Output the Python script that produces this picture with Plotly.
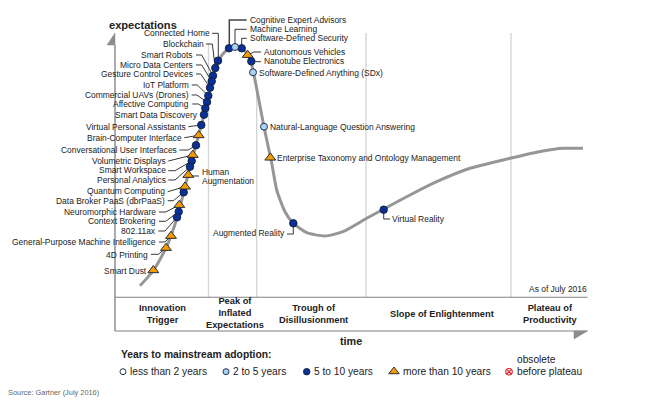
import plotly.graph_objects as go

W, H = 649, 408
X0, Y0 = 115, 297  # pixel position of the axis origin

def px(x): return x / W
def py(y): return 1 - y / H

# curve: time, expectations
curve_time = [25,38,51,62,75,89,100,107,114,120,127,133,137,141,149,156.7,161.7,170,178.3,191.7,210,228,251.7,268.3,295,321.7,355,395,428,448,468]
curve_exp = [11.3,26,49,79,130,182,229,242,248.5,250.5,248.5,242,231,212,170,134,107,85.3,73.7,64.3,61,65.3,78.7,87.7,102,115.3,128.7,138.7,146,148.7,148.7]

# 5 to 10 years
dark_names = ["Connected Home","Blockchain","Smart Robots","Micro Data Centers","Gesture Control Devices","IoT Platform","Commercial UAVs (Drones)","Affective Computing","Smart Data Discovery","Virtual Personal Assistants","Conversational User Interfaces","Smart Workspace","Personal Analytics","Data Broker PaaS (dbrPaaS)","Context Brokering","802.11ax","Cognitive Expert Advisors","Software-Defined Security","Nanotube Electronics","Augmented Reality","Virtual Reality"]
dark_time = [103,100.3,98,96.7,95,93.3,92,90.3,89,86.3,81,76.7,75,68.7,63.7,62,114,126.7,136.3,178.3,268.7]
dark_exp = [236.3,229,221.3,215.7,209.3,201.3,195,188.7,182.3,172,151.7,136,130.3,104.7,85.3,79.7,248.7,248.7,235.7,73.7,87.3]

# 2 to 5 years
light_names = ["Machine Learning","Software-Defined Anything (SDx)","Natural-Language Question Answering"]
light_time = [120,138,149]
light_exp = [250,224.7,170.3]

# more than 10 years
tri_names = ["Brain-Computer Interface","Volumetric Displays","Human Augmentation","Quantum Computing","Neuromorphic Hardware","General-Purpose Machine Intelligence","4D Printing","Smart Dust","Autonomous Vehicles","Enterprise Taxonomy and Ontology Management"]
tri_time = [83.7,77.7,73.3,70,64.3,56,51,38.3,132.7,155.3]
tri_exp = [161.7,142,122,110.3,92,61,49,26.7,242,139.3]

phase_labels = ["Innovation<br>Trigger","Peak of<br>Inflated<br>Expectations","Trough of<br>Disillusionment","Slope of Enlightenment","Plateau of<br>Productivity"]
legend_labels = ["less than 2 years","2 to 5 years","5 to 10 years","more than 10 years","before plateau"]

DARK = "#0A2F96"; LIGHT = "#A9D3F5"; ORANGE = "#F59A00"; EDGE = "#10203A"
GREY = "#969696"; TXT = "#222222"; FONT = "Liberation Sans"

fig = go.Figure()
fig.add_trace(go.Scatter(x=curve_time, y=curve_exp, mode="lines", hoverinfo="skip",
                         line=dict(color=GREY, width=3, shape="spline", smoothing=0.6)))
for names, t, e, col, sym, size in [
    (dark_names, dark_time, dark_exp, DARK, "circle", 7.5),
    (light_names, light_time, light_exp, LIGHT, "circle", 7),
    (tri_names, tri_time, tri_exp, ORANGE, "triangle-up", 9.5),
]:
    fig.add_trace(go.Scatter(x=t, y=e, text=names, mode="markers",
                             marker=dict(color=col, symbol=sym, size=size, line=dict(color=EDGE, width=0.9))))

# legend swatches
def swatch(xp, yp, col, sym, size, edge=EDGE, w=0.9):
    fig.add_trace(go.Scatter(x=[xp - X0], y=[Y0 - yp], mode="markers", hoverinfo="skip",
                             marker=dict(color=col, symbol=sym, size=size, line=dict(color=edge, width=w))))
swatch(123, 371.7, "white", "circle", 6)
swatch(226, 371.7, LIGHT, "circle", 6)
swatch(306.7, 371.7, DARK, "circle", 6.5)
swatch(394, 371.5, ORANGE, "triangle-up", 9)
swatch(509, 371.7, "white", "circle-x", 6.5, "#D8232A", 1.1)

shapes = []
def poly(pts, color="#222222", width=0.9, layer="below"):
    d = "M " + " L ".join(f"{px(x):.5f},{py(y):.5f}" for x, y in pts)
    shapes.append(dict(type="path", path=d, xref="paper", yref="paper", layer=layer,
                       line=dict(color=color, width=width)))

# phase dividers
for x, top in ((208.5, 43), (256.7, 85), (366, 33), (511, 33)):
    poly([(x, top), (x, 297)], "#D6D6D6", 1.4)
# axes and arrows
poly([(115, 45), (115, 331)], GREY, 1.6)
poly([(115, 297.3), (587.5, 297.3)], "#808080", 1.1)
poly([(115, 331), (587.5, 331)], "#808080", 1.1)
for tri in ([(115, 33), (107, 45), (115, 45), (115, 33)], [(587.5, 331), (574, 331), (574, 339), (587.5, 331)]):
    d = "M " + " L ".join(f"{px(x):.5f},{py(y):.5f}" for x, y in tri) + " Z"
    shapes.append(dict(type="path", path=d, xref="paper", yref="paper", layer="below",
                       fillcolor="#8C8C8C", line=dict(color="#8C8C8C", width=0.5)))

# leader lines
leaders = [
    [(212,33.3),(218.3,33.3),(218.3,60)], [(206,44),(212.3,44),(215.3,68)],
    [(196,55),(201.7,55),(213,75.7)], [(196,65),(201.7,65),(211.7,81.3)],
    [(196,74),(200.7,74),(210,87.7)], [(191.7,85),(197.3,85),(208.3,95.7)],
    [(191.7,95),(196.7,95),(207,102)], [(192.3,104),(198.3,104),(205.3,108.3)],
    [(200,115),(204,114.7)], [(188.3,126.7),(201.3,125)], [(184.3,137.7),(198.7,135.3)],
    [(179.3,150),(188.3,150),(196,145.3)], [(168.3,161),(192.7,155)],
    [(168.3,170.7),(175,170.7),(191.7,161)], [(168.3,180),(175,180),(190,166.7)],
    [(167.7,191.7),(185,186.7)], [(167.7,200.7),(173.3,200.7),(183.7,192.3)],
    [(159,212),(165.7,212),(179.3,205)], [(159,221.3),(165.7,221.3),(178.7,211.7)],
    [(158.3,231),(165,231),(177,217.3)], [(159,242),(165,242),(171,236)],
    [(151,254.3),(158.3,254.3),(166,248)], [(188,176),(199,176)],
    [(287,234),(293.3,234),(293.3,223)], [(383.7,209.7),(383.7,219),(390,219)],
    [(235,47),(235,29.3),(246.7,29.3)], [(241.7,48),(241.7,38.3),(246.7,38.3)],
    [(247.7,55),(254,52),(261,52)], [(251,61.7),(261,61.7)],
]
for l in leaders:
    poly(l)
poly([(229.3,48),(229.3,20),(246.7,20)], "#444444", 1.5)

ann = []
def text(x, y, s, anchor="left", size=8.45, bold=False, color=TXT, align=None):
    ann.append(dict(x=px(x), y=py(y), xref="paper", yref="paper", text=f"<b>{s}</b>" if bold else s,
                    xanchor=anchor, yanchor="middle", showarrow=False, align=align or anchor,
                    font=dict(family=FONT, size=size, color=color), borderpad=0, borderwidth=0))

right_labels = [
    (210,33,"Connected Home"),(204,44,"Blockchain"),(193.3,55.3,"Smart Robots"),(193.3,64.7,"Micro Data Centers"),
    (193.3,74,"Gesture Control Devices"),(189,85.3,"IoT Platform"),(189,95,"Commercial UAVs (Drones)"),
    (189,104,"Affective Computing"),(197.7,115,"Smart Data Discovery"),(185.7,126.7,"Virtual Personal Assistants"),
    (182.3,138,"Brain-Computer Interface"),(176.7,150,"Conversational User Interfaces"),(165.7,161,"Volumetric Displays"),
    (165.7,170.3,"Smart Workspace"),(165.7,179.7,"Personal Analytics"),(165,191.3,"Quantum Computing"),
    (165,200.7,"Data Broker PaaS (dbrPaaS)"),(155.7,212,"Neuromorphic Hardware"),(155.7,221.3,"Context Brokering"),
    (155.7,230.7,"802.11ax"),(156,242,"General-Purpose Machine Intelligence"),(148,254.7,"4D Printing"),
    (147,271,"Smart Dust"),(285,233.3,"Augmented Reality"),(587,289,"As of July 2016"),
]
for x, y, s in right_labels:
    text(x, y, s, "right")
left_labels = [
    (249.7,20,"Cognitive Expert Advisors"),(249.7,29.3,"Machine Learning"),(249.7,38.3,"Software-Defined Security"),
    (263.7,52,"Autonomous Vehicles"),(263.7,61.3,"Nanotube Electronics"),(258.7,72.7,"Software-Defined Anything (SDx)"),
    (270,127,"Natural-Language Question Answering"),(277,157.7,"Enterprise Taxonomy and Ontology Management"),
    (391.7,219,"Virtual Reality"),(201.7,171.7,"Human"),(201.7,181,"Augmentation"),
]
for x, y, s in left_labels:
    text(x, y, s, "left")

text(109, 24.7, "expectations", "left", 11.1, True)
text(351, 341, "time", "center", 10.8, True)
for cx, cy, s in zip((162.5, 235, 313, 441.7, 550.4), (314, 313.3, 314, 314, 314), phase_labels):
    text(cx, cy, s, "center", 9.3, True)
text(121, 354.7, "Years to mainstream adoption:", "left", 10.3, True)
for x, s in zip((130, 233, 314, 402.5, 517), legend_labels):
    text(x, 371.7, s, "left", 10.2)
text(517, 359.3, "obsolete", "left", 10.2)
text(8.3, 392, "Source: Gartner (July 2016)", "left", 7.4, False, "#666666")

fig.update_layout(
    width=W, height=H, margin=dict(l=0, r=0, t=0, b=0), paper_bgcolor="white", plot_bgcolor="white",
    showlegend=False, shapes=shapes, annotations=ann,
    xaxis=dict(range=[-X0, W - X0], visible=False, fixedrange=True),
    yaxis=dict(range=[Y0 - H, Y0], visible=False, fixedrange=True),
)
fig.write_html("out.html", config=dict(displayModeBar=False),
               post_script="document.body.style.margin='0';document.documentElement.style.overflow='hidden';")
